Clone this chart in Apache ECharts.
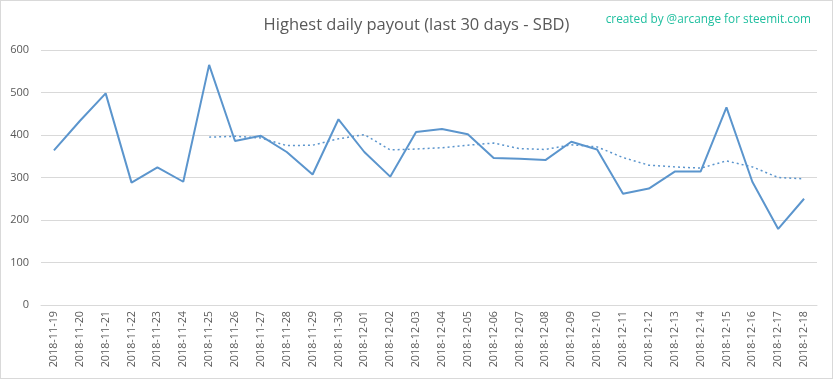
<!DOCTYPE html>
<html><head><meta charset="utf-8">
<script src="https://cdn.jsdelivr.net/npm/echarts@6/dist/echarts.min.js"></script>
<style>html,body{margin:0;padding:0;background:#fff}#c{width:833px;height:379px;box-sizing:border-box;border:1px solid #d9d9d9}</style>
</head><body><div id="c"></div>
<script>
const categories = ["2018-11-19","2018-11-20","2018-11-21","2018-11-22","2018-11-23","2018-11-24","2018-11-25","2018-11-26","2018-11-27","2018-11-28","2018-11-29","2018-11-30","2018-12-01","2018-12-02","2018-12-03","2018-12-04","2018-12-05","2018-12-06","2018-12-07","2018-12-08","2018-12-09","2018-12-10","2018-12-11","2018-12-12","2018-12-13","2018-12-14","2018-12-15","2018-12-16","2018-12-17","2018-12-18"];
const payout = [364,433,498,288,324,290,565,386,398,360,307,437,360,302,407,414,402,346,344,341,384,366,262,274,314,314,465,290,179,250];
const trend = [null,null,null,null,null,null,395,397,393,375,376,391,401,365,367,370,376,381,368,366,377,372,347,329,325,322,339,325,300,297];
const yTicks = [0,100,200,300,400,500,600];

const chart = echarts.init(document.getElementById('c'));
chart.setOption({
  animation:false,
  title:[{text:'Highest daily payout (last 30 days - SBD)',left:'center',top:11,
    textStyle:{fontFamily:'Open Sans',fontWeight:'normal',fontSize:16.5,color:'#595959'}},
   {text:'created by @arcange for steemit.com',right:16,top:8,
    textStyle:{fontFamily:'Open Sans',fontWeight:'normal',fontSize:11.8,color:'#1fbf9f'}}],
  grid:{left:40,right:15,top:49,bottom:73},
  xAxis:{type:'category',data:categories,boundaryGap:true,
    axisLine:{lineStyle:{color:'#d9d9d9'}},axisTick:{show:false},
    axisLabel:{rotate:90,interval:0,fontFamily:'Open Sans',fontSize:10.8,color:'#595959',margin:6}},
  yAxis:{type:'value',min:yTicks[0],max:yTicks[yTicks.length-1],interval:100,
    axisLine:{show:false},axisTick:{show:false},
    splitLine:{lineStyle:{color:'#d9d9d9'}},
    axisLabel:{fontFamily:'Open Sans',fontSize:11,color:'#595959',margin:12}},
  series:[
    {type:'line',data:payout,symbol:'none',lineStyle:{color:'#5b95cd',width:2}},
    {type:'line',data:trend,symbol:'none',lineStyle:{color:'#5b95cd',width:1.5,type:[2,3]}}
  ]
});
</script></body></html>
